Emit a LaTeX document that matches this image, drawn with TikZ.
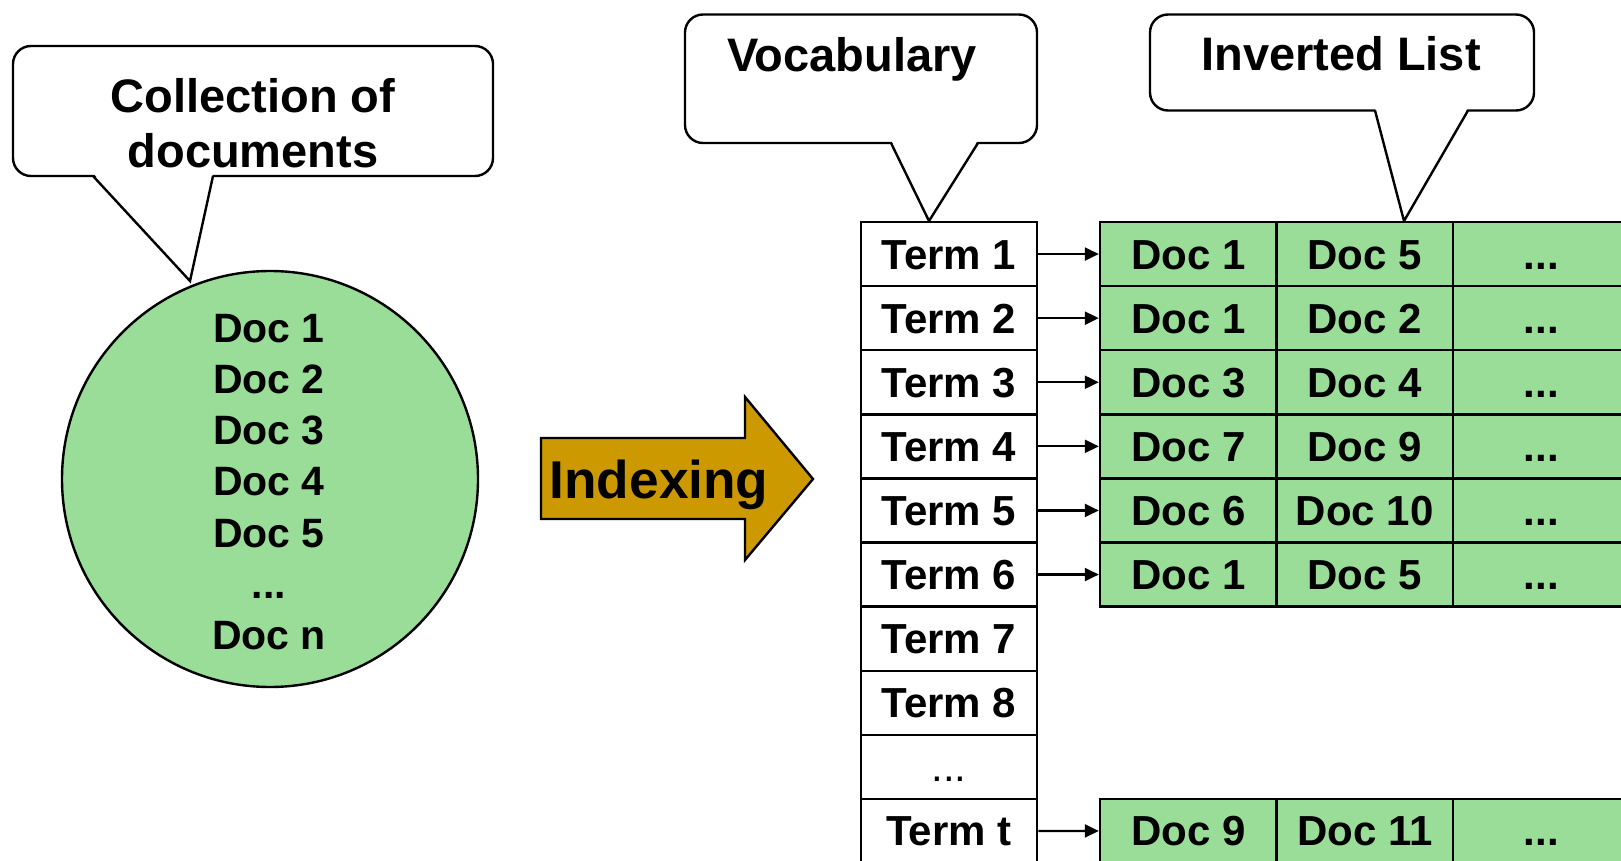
\documentclass[tikz,border=0pt]{standalone}
\usepackage{fontspec}
\setmainfont{Liberation Sans}
\usetikzlibrary{arrows.meta}
\definecolor{docgreen}{RGB}{153,221,153}
\definecolor{idxgold}{RGB}{204,153,0}

\begin{document}
\begin{tikzpicture}[x=0.5pt, y=-0.5pt,
  outline/.style={line width=1.2pt},
  cell/.style={draw, line width=1.2pt, minimum width=88.25pt, minimum height=32.05pt,
    inner sep=0pt, text height=15pt, text depth=0pt,
    font=\fontsize{21}{25}\selectfont\bfseries},
  termcell/.style={cell, fill=white},
  doccell/.style={cell, fill=docgreen},
  link/.style={line width=1.1pt, -{Triangle[length=7pt,width=6.5pt]}},
  bubble/.style={draw, line width=1.2pt, fill=white, rounded corners=9pt, inner sep=0pt},
  bubbletext/.style={anchor=base, inner sep=0pt, font=\fontsize{23.5}{28}\selectfont\bfseries},
]
\path[use as bounding box, clip] (0,0) rectangle (1621,861);

% ---- speech bubbles ----
\node[bubble, minimum width=240pt, minimum height=65pt] (collbox) at (253,111) {};
\coordinate (colltip) at (190,281);
\fill[white] (93,173) -- (colltip) -- (213,173) -- cycle;
\draw[outline] (93,176) -- (colltip) -- (213,176);
\node[bubbletext] (colltitleA) at (253,112.5) {Collection of};
\node[bubbletext] (colltitleB) at (253,168) {documents};

\node[bubble, minimum width=176pt, minimum height=64.25pt] (vocabbox) at (861,78.75) {};
\coordinate (vocabtip) at (929,221);
\fill[white] (891,140) -- (vocabtip) -- (978,140) -- cycle;
\draw[outline] (891,143) -- (vocabtip) -- (978,143);
\node[bubbletext] (vocabtitle) at (852,72) {Vocabulary};

\node[bubble, minimum width=192pt, minimum height=48pt] (invbox) at (1342,62.5) {};
\coordinate (invtip) at (1404,221);
\fill[white] (1375,107.5) -- (invtip) -- (1468,107.5) -- cycle;
\draw[outline] (1375,110.5) -- (invtip) -- (1468,110.5);
\node[bubbletext] (invtitle) at (1341,71) {Inverted List};

% ---- document collection ----
\node[circle, draw, line width=1.2pt, fill=docgreen, minimum size=208pt, inner sep=0pt] (coll) at (270,479) {};
\node[align=center, inner sep=0pt, font=\fontsize{20.5}{25.6}\selectfont\bfseries] (colldocs) at (269,482)
  {Doc 1\\Doc 2\\Doc 3\\Doc 4\\Doc 5\\...\\Doc n};

% ---- indexing arrow ----
\draw[outline, fill=idxgold] (541,438) -- (745,438) -- (745,397) -- (813,479)
  -- (745,560) -- (745,519) -- (541,519) -- cycle;
\node[anchor=base, inner sep=0pt, font=\fontsize{26.6}{30}\selectfont\bfseries] (idx) at (659,498) {Indexing};

% ---- vocabulary column ----
\foreach \k [count=\n] in {0,...,7} {
  \pgfmathsetmacro\yc{254.05+64.1*\k}
  \node[termcell] (term\k) at (949,\yc) {Term \n};
}
\node[termcell, font=\fontsize{21}{25}\selectfont] (term8) at (949,766.85) {...};
\node[termcell] (term9) at (949,830.95) {Term t};

% ---- posting lists ----
\foreach \k/\a/\b in {0/1/5, 1/1/2, 2/3/4, 3/7/9, 4/6/10, 5/1/5, 9/9/11} {
  \pgfmathsetmacro\yc{254.05+64.1*\k}
  \node[doccell] (doc\k-1) at (1188.25,\yc) {Doc \a};
  \node[doccell] (doc\k-2) at (1364.75,\yc) {Doc \b};
  \node[doccell] (doc\k-3) at (1541.25,\yc) {...};
  \draw[link] (term\k.east) -- (doc\k-1.west);
}
\end{tikzpicture}
\end{document}
